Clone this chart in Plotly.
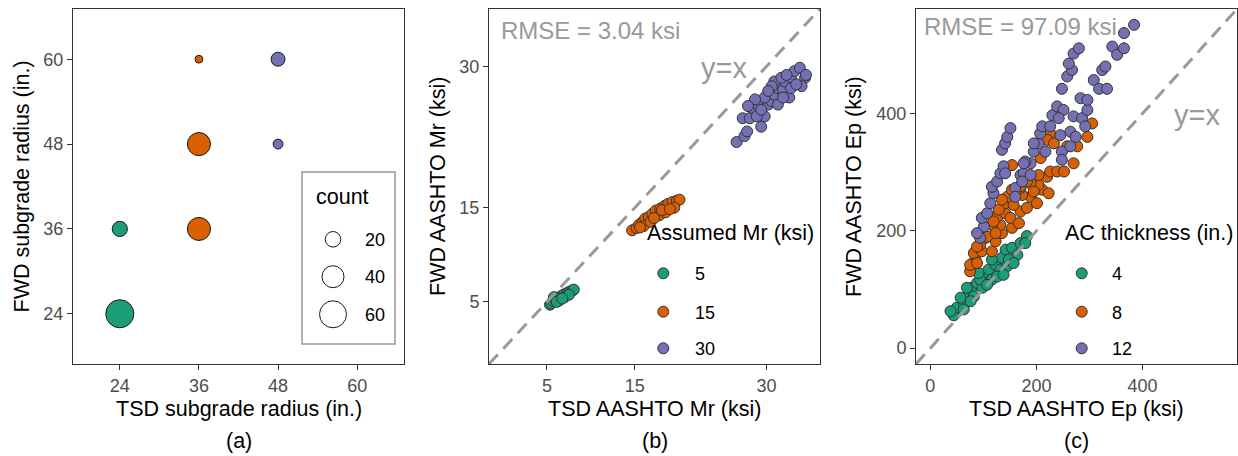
import plotly.graph_objects as go

W, H = 1238, 456
FONT = "Liberation Sans, Arial, sans-serif"

# ---------------- Panel (a): subgrade radius counts ----------------
a_tsd_radius = [24, 24, 36, 36, 36, 48, 48]
a_fwd_radius = [24, 36, 36, 48, 60, 48, 60]
a_count = [65, 19, 44, 44, 5, 8, 16]
a_assumed_mr = [5, 5, 15, 15, 15, 30, 30]
a_ticks = [24, 36, 48, 60]
count_legend_values = [20, 40, 60]

# ---------------- Panel (b): AASHTO Mr (ksi) ----------------
b_mr5_tsd = [5.35, 5.5, 5.7, 5.95, 6.25, 6.6, 6.95, 7.3, 7.6, 7.9, 8.05, 5.8, 6.4, 7.0, 7.5, 6.1, 6.75]
b_mr5_fwd = [4.7, 4.85, 5.1, 5.25, 5.4, 5.6, 5.8, 5.95, 6.1, 6.2, 6.3, 5.5, 5.15, 5.5, 5.75, 5.0, 5.35]
b_mr15_tsd = [14.7, 15.2, 15.5, 15.9, 16.2, 16.6, 17.0, 17.4, 17.9, 18.4, 18.8, 19.3, 19.8, 20.1,
              16.0, 16.8, 17.8, 18.5, 19.5, 15.6, 17.2, 18.1, 19.0]
b_mr15_fwd = [12.6, 12.85, 13.2, 13.5, 13.85, 14.0, 14.35, 14.7, 14.9, 15.2, 15.4, 15.6, 15.75, 15.85,
              13.05, 13.5, 14.2, 14.5, 15.0, 12.9, 13.9, 14.75, 14.85]
b_mr30_tsd = [26.6, 27.5, 27.8, 27.3, 28.1, 28.3, 29.0, 29.4, 29.8, 28.9, 30.2, 30.6, 30.9, 31.3, 31.9,
              32.6, 32.1, 32.8, 33.2, 33.8, 34.4, 34.0, 32.8, 30.9, 31.7, 32.3, 30.6, 29.8, 28.7, 27.9,
              29.4, 31.3, 33.4, 34.5, 30.2, 31.9]
b_mr30_fwd = [21.97, 22.6, 23.1, 24.5, 24.5, 25.6, 25.95, 23.6, 24.7, 24.7, 25.95, 26.3, 27.0, 27.7, 27.5,
              26.7, 28.4, 28.8, 29.5, 29.86, 28.8, 27.9, 27.7, 28.4, 28.8, 29.1, 27.9, 26.7, 26.5, 25.8,
              25.4, 25.95, 28.1, 29.1, 27.4, 26.7]
b_ticks = [5, 15, 30]
b_rmse = "RMSE = 3.04 ksi"

# ---------------- Panel (c): AASHTO Ep (ksi) ----------------
c_ac4_tsd = [44, 50, 63, 72, 79, 88, 98, 101, 110, 116, 123, 132, 135, 142, 154, 145, 164, 170, 182, 179,
             69, 57, 82, 94, 107, 126, 116, 148, 157, 138, 38, 63, 76, 91]
c_ac4_fwd = [56, 69, 77, 91, 103, 111, 103, 122, 134, 117, 142, 134, 154, 168, 171, 140, 159, 179, 191, 179,
             103, 86, 88, 117, 108, 122, 151, 151, 145, 125, 63, 66, 80, 128]
c_ac8_tsd = [75, 85, 82, 97, 94, 116, 104, 123, 135, 132, 116, 126, 141, 154, 151, 167, 170, 141, 157, 182,
             189, 173, 201, 211, 223, 204, 145, 154, 170, 189, 220, 75, 88, 129,
             88, 154, 135, 195, 204, 226, 239, 252, 270, 258, 277, 296, 305, 226, 220, 233, 208, 182, 170,
             119, 107, 123]
c_ac8_fwd = [131, 151, 162, 165, 176, 165, 188, 182, 196, 210, 210, 224, 230, 205, 222, 213, 233, 247, 244, 239,
             258, 261, 247, 270, 264, 278, 258, 270, 273, 281, 292, 142, 173, 236,
             145, 312, 253, 267, 295, 301, 301, 301, 315, 344, 344, 360, 383, 366, 355, 349, 324, 284, 276,
             216, 190, 196]
c_ac12_tsd = [94, 101, 97, 107, 113, 119, 116, 126, 132, 138, 141, 135, 141, 145, 151, 160, 170, 189, 179, 176,
              189, 195, 204, 207, 211, 217, 226, 230, 239, 251, 242, 245, 248, 248, 264, 264, 270, 286, 274, 292,
              296, 283, 296, 258, 267, 261, 270, 280, 248, 308, 318, 333, 324, 330, 343, 352, 365, 365, 384,
              195, 176, 160, 173, 88]
c_ac12_fwd = [188, 207, 222, 230, 247, 264, 275, 284, 298, 310, 298, 338, 349, 360, 375, 273, 295, 315, 318, 298,
              295, 335, 349, 366, 378, 335, 378, 397, 412, 406, 392, 363, 335, 321, 344, 369, 395, 392, 360, 378,
              406, 426, 423, 463, 474, 485, 502, 511, 442, 457, 442, 442, 474, 480, 514, 500, 511, 537, 551,
              349, 315, 258, 284, 196]
c_ticks = [0, 200, 400]
c_rmse = "RMSE = 97.09 ksi"

# ---------------- styling / layout constants ----------------
MR_COLORS = {5: "#1B9E77", 15: "#D95F02", 30: "#7570B3"}
AC_COLORS = {4: "#1B9E77", 8: "#D95F02", 12: "#7570B3"}
SIZEREF = 0.165
PT_SIZE = 11
RANGE_A = [16.9, 67.1]
RANGE_B = [-1.6, 36.1]
RANGE_C = [-27, 578]

PANEL_A = (73, 404)
PANEL_B = (489, 820)
PANEL_C = (916, 1237)
PANEL_TOP, PANEL_BOTTOM = 9, 364


def px(x):
    return x / W


def py(y):
    return (H - y) / H


def dom_x(p):
    return [px(p[0]), px(p[1])]


DOM_Y = [py(PANEL_BOTTOM), py(PANEL_TOP)]


def axis_style(rng, ticks, domain, anchor):
    return dict(domain=domain, range=rng, anchor=anchor, tickmode="array", tickvals=ticks,
                ticks="outside", ticklen=5, tickwidth=1, tickcolor="#333333",
                showline=True, linecolor="#333333", linewidth=1, mirror=True,
                showgrid=False, zeroline=False, fixedrange=True,
                tickfont=dict(family=FONT, size=18, color="#4d4d4d"))


fig = go.Figure()

# Panel (a) bubbles
fig.add_trace(go.Scatter(
    x=a_tsd_radius, y=a_fwd_radius, mode="markers", xaxis="x", yaxis="y",
    marker=dict(size=a_count, sizemode="area", sizeref=SIZEREF, opacity=1,
                color=[MR_COLORS[m] for m in a_assumed_mr],
                line=dict(color="#1a1a1a", width=1)),
    hoverinfo="skip", showlegend=False))

# Panel (b)
for mr, xs, ys in [(5, b_mr5_tsd, b_mr5_fwd), (15, b_mr15_tsd, b_mr15_fwd), (30, b_mr30_tsd, b_mr30_fwd)]:
    fig.add_trace(go.Scatter(x=xs, y=ys, mode="markers", xaxis="x2", yaxis="y2",
                             marker=dict(size=PT_SIZE, color=MR_COLORS[mr], opacity=1,
                                         line=dict(color="#333333", width=1)),
                             hoverinfo="skip", showlegend=False))
fig.add_trace(go.Scatter(x=RANGE_B, y=RANGE_B, mode="lines", xaxis="x2", yaxis="y2",
                         line=dict(color="#999999", width=3, dash="13px,8px"),
                         hoverinfo="skip", showlegend=False))

# Panel (c)
for ac, xs, ys in [(4, c_ac4_tsd, c_ac4_fwd), (8, c_ac8_tsd, c_ac8_fwd), (12, c_ac12_tsd, c_ac12_fwd)]:
    fig.add_trace(go.Scatter(x=xs, y=ys, mode="markers", xaxis="x3", yaxis="y3",
                             marker=dict(size=PT_SIZE, color=AC_COLORS[ac], opacity=1,
                                         line=dict(color="#333333", width=1)),
                             hoverinfo="skip", showlegend=False))
fig.add_trace(go.Scatter(x=RANGE_C, y=RANGE_C, mode="lines", xaxis="x3", yaxis="y3",
                         line=dict(color="#999999", width=3, dash="13px,8px"),
                         hoverinfo="skip", showlegend=False))

# Legend keys drawn on a hidden pixel-space overlay axis
COUNT_KEY_X = 333
COUNT_KEY_Y = [239.3, 276.7, 314.3]
fig.add_trace(go.Scatter(
    x=[COUNT_KEY_X] * len(count_legend_values), y=COUNT_KEY_Y, mode="markers", xaxis="x4", yaxis="y4",
    marker=dict(size=count_legend_values, sizemode="area", sizeref=SIZEREF, color="white", opacity=1,
                line=dict(color="#1a1a1a", width=1)),
    hoverinfo="skip", showlegend=False))

KEY_Y = [273.3, 311.7, 348.3]
B_KEY_X, C_KEY_X = 663.3, 1081.7
fig.add_trace(go.Scatter(x=[B_KEY_X] * 3, y=KEY_Y, mode="markers", xaxis="x4", yaxis="y4",
                         marker=dict(size=PT_SIZE, color=[MR_COLORS[k] for k in MR_COLORS], opacity=1,
                                     line=dict(color="#333333", width=1)),
                         hoverinfo="skip", showlegend=False))
fig.add_trace(go.Scatter(x=[C_KEY_X] * 3, y=KEY_Y, mode="markers", xaxis="x4", yaxis="y4",
                         marker=dict(size=PT_SIZE, color=[AC_COLORS[k] for k in AC_COLORS], opacity=1,
                                     line=dict(color="#333333", width=1)),
                         hoverinfo="skip", showlegend=False))

annotations = []


def ann(text, x, y, size, color="black", xanchor="center", angle=0):
    annotations.append(dict(text=text, x=px(x), y=py(y), xref="paper", yref="paper",
                            xanchor=xanchor, yanchor="middle", showarrow=False, textangle=angle,
                            font=dict(family=FONT, size=size, color=color)))


mid_a = sum(PANEL_A) / 2
mid_b = sum(PANEL_B) / 2
mid_c = sum(PANEL_C) / 2
mid_y = (PANEL_TOP + PANEL_BOTTOM) / 2

ann("TSD subgrade radius (in.)", mid_a, 408.5, 21.5)
ann("FWD subgrade radius (in.)", 22, mid_y, 21.5, angle=-90)
ann("(a)", mid_a, 441, 21.5)
ann("TSD AASHTO Mr (ksi)", mid_b, 408.5, 21.5)
ann("FWD AASHTO Mr (ksi)", 438.5, mid_y, 21.5, angle=-90)
ann("(b)", mid_b, 441, 21.5)
ann("TSD AASHTO Ep (ksi)", mid_c, 408.5, 21.5)
ann("FWD AASHTO Ep (ksi)", 854.5, mid_y, 21.5, angle=-90)
ann("(c)", mid_c, 441, 21.5)

ann(b_rmse, 499, 30.7, 24, color="#999999", xanchor="left")
ann("y=x", 699, 68.3, 29, color="#999999", xanchor="left")
ann(c_rmse, 921.5, 26.7, 24, color="#999999", xanchor="left")
ann("y=x", 1171.5, 115, 29, color="#999999", xanchor="left")

# count legend
ann("count", 314.3, 196.5, 21.5, xanchor="left")
for v, yk in zip(count_legend_values, COUNT_KEY_Y):
    ann(str(v), 363.3, yk + 0.7, 18, xanchor="left")

# (b) legend
ann("Assumed Mr (ksi)", 645, 232.5, 21.5, xanchor="left")
for k, yk in zip(MR_COLORS, KEY_Y):
    ann(str(k), 693.3, yk + 1, 18, xanchor="left")

# (c) legend
ann("AC thickness (in.)", 1063.3, 232.5, 21.5, xanchor="left")
for k, yk in zip(AC_COLORS, KEY_Y):
    ann(str(k), 1110, yk + 1, 18, xanchor="left")

shapes = [dict(type="rect", xref="paper", yref="paper", x0=px(302), x1=px(395), y0=py(344), y1=py(172),
               line=dict(color="#999999", width=1.5), fillcolor="white", layer="below")]

fig.update_layout(
    width=W, height=H, margin=dict(l=0, r=0, t=0, b=0),
    paper_bgcolor="white", plot_bgcolor="rgba(0,0,0,0)",
    showlegend=False, font=dict(family=FONT),
    xaxis=axis_style(RANGE_A, a_ticks, dom_x(PANEL_A), "y"),
    yaxis=axis_style(RANGE_A, a_ticks, DOM_Y, "x"),
    xaxis2=axis_style(RANGE_B, b_ticks, dom_x(PANEL_B), "y2"),
    yaxis2=axis_style(RANGE_B, b_ticks, DOM_Y, "x2"),
    xaxis3=axis_style(RANGE_C, c_ticks, dom_x(PANEL_C), "y3"),
    yaxis3=axis_style(RANGE_C, c_ticks, DOM_Y, "x3"),
    xaxis4=dict(domain=[0, 1], range=[0, W], visible=False, fixedrange=True, anchor="y4"),
    yaxis4=dict(domain=[0, 1], range=[H, 0], visible=False, fixedrange=True, anchor="x4"),
    annotations=annotations, shapes=shapes,
)

fig.write_html("out.html", config={"displayModeBar": False})
